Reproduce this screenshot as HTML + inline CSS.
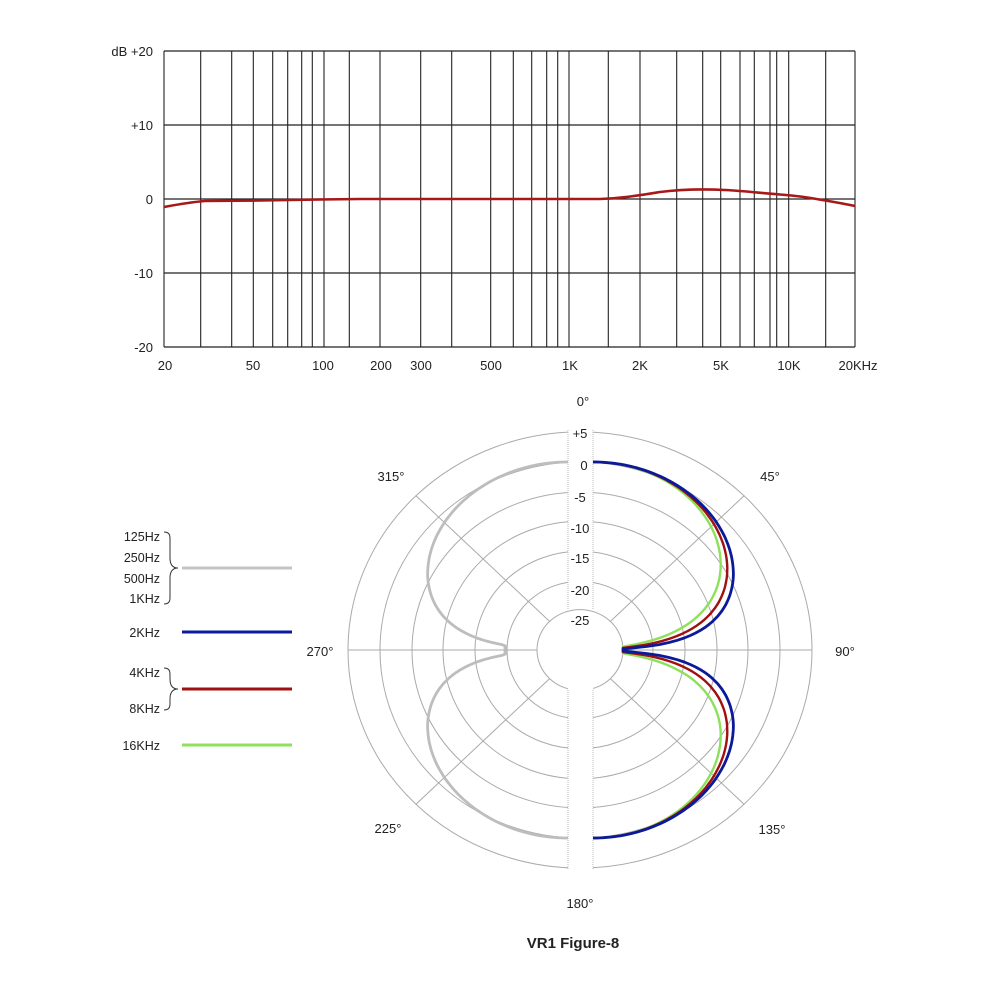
<!DOCTYPE html>
<html><head><meta charset="utf-8"><style>
html,body{margin:0;padding:0;background:#fff;}
svg{display:block;font-family:"Liberation Sans",sans-serif;}
</style></head><body>
<svg id="s" width="1000" height="1000" viewBox="0 0 1000 1000" xmlns="http://www.w3.org/2000/svg">
<rect width="1000" height="1000" fill="#fff"/>
<g id="topc"></g>
<g font-size="13" fill="#222" text-anchor="end">
<text x="153" y="56">dB +20</text>
<text x="153" y="130">+10</text>
<text x="153" y="204">0</text>
<text x="153" y="278">-10</text>
<text x="153" y="352">-20</text>
</g>
<g font-size="13" fill="#222" text-anchor="middle">
<text x="165" y="370">20</text><text x="253" y="370">50</text><text x="323" y="370">100</text>
<text x="381" y="370">200</text><text x="421" y="370">300</text><text x="491" y="370">500</text>
<text x="570" y="370">1K</text><text x="640" y="370">2K</text><text x="721" y="370">5K</text>
<text x="789" y="370">10K</text><text x="858" y="370">20KHz</text>
</g>
<g id="polar"></g>
<g font-size="13" fill="#222" text-anchor="middle">
<text x="583" y="406">0°</text><text x="770" y="481">45°</text><text x="845" y="656">90°</text>
<text x="772" y="834">135°</text><text x="580" y="908">180°</text><text x="388" y="833">225°</text>
<text x="320" y="656">270°</text><text x="391" y="481">315°</text>
</g>
<g font-size="13" fill="#222" text-anchor="middle">
<text x="580" y="438">+5</text><text x="584" y="470">0</text><text x="580" y="502">-5</text>
<text x="580" y="533">-10</text><text x="580" y="563">-15</text><text x="580" y="595">-20</text><text x="580" y="625">-25</text>
</g>
<g font-size="12.5" fill="#222" text-anchor="end">
<text x="160" y="541">125Hz</text><text x="160" y="562">250Hz</text><text x="160" y="583">500Hz</text><text x="160" y="603">1KHz</text>
<text x="160" y="637">2KHz</text><text x="160" y="677">4KHz</text><text x="160" y="713">8KHz</text><text x="160" y="750">16KHz</text>
</g>
<g fill="none" stroke="#333" stroke-width="1">
<path d="M164,532 q6,0 6,6 v20 q0,10 8,10 q-8,0 -8,10 v20 q0,6 -6,6"/>
<path d="M164,668 q6,0 6,6 v5 q0,10 8,10 q-8,0 -8,10 v5 q0,6 -6,6"/>
</g>
<g stroke-width="3">
<line x1="182" y1="568" x2="292" y2="568" stroke="#c4c4c4"/>
<line x1="182" y1="632" x2="292" y2="632" stroke="#0a1a9a"/>
<line x1="182" y1="689" x2="292" y2="689" stroke="#a01010"/>
<line x1="182" y1="745" x2="292" y2="745" stroke="#8de05a"/>
</g>
<text x="573" y="948" font-size="15" font-weight="bold" text-anchor="middle" fill="#222">VR1 Figure-8</text>
</svg>
<script>
(function(){
var NS="http://www.w3.org/2000/svg";
function el(p,t,a){var e=document.createElementNS(NS,t);for(var k in a)e.setAttribute(k,a[k]);p.appendChild(e);return e;}
var tg=document.getElementById("topc");
var L=164,R=855,T=51,B=347;
[51,125,199,273,347].forEach(function(y){el(tg,"line",{x1:L,x2:R,y1:y,y2:y,stroke:"#222","stroke-width":1.2});});
var xs=[164,200.7,231.7,253.3,272.7,287.7,301.7,312.3,324,349.3,380,420.7,451.7,490.7,513.3,531.7,546.7,557.7,569,608.3,640,676.7,702.7,720.7,740,754.3,770,776.7,788.7,825.7,855];
xs.forEach(function(x){el(tg,"line",{x1:x,x2:x,y1:T,y2:B,stroke:"#222","stroke-width":1.1});});
el(tg,"path",{d:"M164,207 C180,204 192,202 205,201 L260,200.5 L320,199.5 L360,199 L600,199 C620,198.5 635,196 660,192 C680,189.5 705,189 725,190 C745,191 760,193 780,194.5 C800,196 812,198 822,200 C835,202 845,204 855,206",fill:"none",stroke:"#a81818","stroke-width":2.6,"stroke-linejoin":"round"});
var g=document.getElementById("polar");var cx=580,cy=650,sy=0.94;
var rs=[232,200,168,137,105,73];
rs.forEach(function(r){el(g,"ellipse",{cx:cx,cy:cy,rx:r,ry:r*sy,fill:"none",stroke:"#aaa","stroke-width":1});});
el(g,"line",{x1:cx-232,x2:cx+232,y1:cy,y2:cy,stroke:"#aaa","stroke-width":1});
[45,135,225,315].forEach(function(a){var t=a*Math.PI/180;
el(g,"line",{x1:cx+43*Math.sin(t),y1:cy-43*Math.cos(t)*sy,x2:cx+232*Math.sin(t),y2:cy-232*Math.cos(t)*sy,stroke:"#aaa","stroke-width":1});});
el(g,"rect",{x:568,y:425,width:25,height:450,fill:"#fff"});
el(g,"ellipse",{cx:cx,cy:cy,rx:43,ry:43*sy,fill:"#fff",stroke:"#aaa","stroke-width":1});
el(g,"rect",{x:568,y:688,width:25,height:190,fill:"#fff"});
[568,593].forEach(function(x){el(g,"line",{x1:x,x2:x,y1:430,y2:610,stroke:"#bbb","stroke-width":1,"stroke-dasharray":"1,1"});el(g,"line",{x1:x,x2:x,y1:690,y2:870,stroke:"#bbb","stroke-width":1,"stroke-dasharray":"1,1"});});
function lobe(side,ox,n,rmin,col,w){
 var d="";
 for(var i=0;i<=180;i++){var a=i*Math.PI/180;var c=Math.abs(Math.cos(a));
  var db=c>1e-6?20*n*Math.log10(c):-99;var r=Math.max(rmin,200+6.3*db);
  var x=ox+side*r*Math.sin(a),y=cy-r*Math.cos(a)*sy;
  if(i==90){x=ox+side*rmin;y=cy;}
  d+=(i?"L":"M")+x.toFixed(1)+","+y.toFixed(1);}
 el(g,"path",{d:d,fill:"none",stroke:col,"stroke-width":w,"stroke-linejoin":"round"});}
lobe(-1,568,1,63,"#bdbdbd",2.8);
lobe(1,593,1.45,30,"#8de05a",2.4);
lobe(1,593,1.2,30,"#a01010",2.4);
lobe(1,593,1,30,"#0a1a9a",2.8);
})();
</script>
</body></html>
